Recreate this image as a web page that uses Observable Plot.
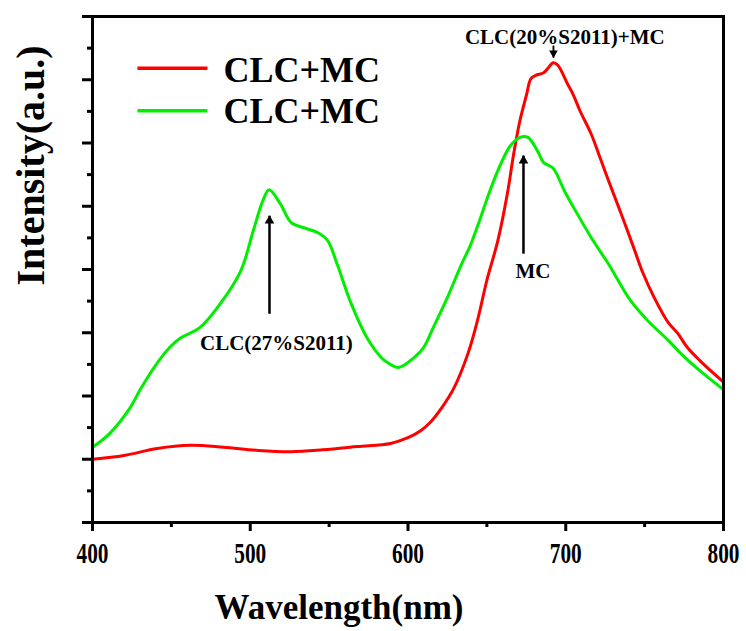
<!DOCTYPE html>
<html><head><meta charset="utf-8">
<script src="https://cdn.jsdelivr.net/npm/d3@7"></script>
<script src="https://cdn.jsdelivr.net/npm/@observablehq/plot@0.6"></script>
<style>
body{margin:0;background:#fff}
#chart{width:746px;height:631px}
#chart svg, #chart svg text {font-family: "Liberation Serif", "Times New Roman", serif !important; font-weight: bold;}
</style>
</head><body><div id="chart"></div>
<script>
// ---- data ----
const redWavelength = [400,420,441,462,483,505,526,546,568,589,600,608,614,621,629,638,644,650,657,663,667,671,675,678,681,686,689,692,695,701,705,709,716,722,727,735,743,749,756,765,771,777,785,800];
const redIntensity  = [1.00,1.06,1.17,1.22,1.19,1.14,1.12,1.15,1.20,1.25,1.34,1.45,1.58,1.80,2.12,2.67,3.19,3.83,4.46,5.20,5.83,6.36,6.75,7.02,7.07,7.11,7.19,7.27,7.23,6.94,6.75,6.51,6.15,5.75,5.41,4.89,4.35,3.94,3.56,3.16,2.99,2.77,2.56,2.22];
const greenWavelength = [400,411,424,430,439,449,456,468,481,494,502,508,512,519,526,534,543,549,555,564,574,583,587,594,604,610,616,625,633,640,646,652,659,665,671,676,682,686,692,699,705,716,727,741,752,765,773,785,800];
const greenIntensity  = [1.19,1.41,1.82,2.09,2.45,2.77,2.92,3.08,3.46,3.98,4.62,5.09,5.26,5.04,4.74,4.66,4.58,4.46,4.09,3.46,2.92,2.61,2.53,2.45,2.61,2.77,3.08,3.56,4.03,4.41,4.82,5.25,5.68,5.96,6.09,6.09,5.88,5.69,5.60,5.25,4.98,4.51,4.09,3.51,3.19,2.88,2.67,2.40,2.10];

const xMajorTicks = [400,500,600,700,800];
const xMinorTicks = [450,550,650,750];
const yMajorTicks = [0,1,2,3,4,5,6,7,8];
const yMinorTicks = [0.5,1.5,2.5,3.5,4.5,5.5,6.5,7.5];

const legendLabels = ["CLC+MC","CLC+MC"];
const legendColors = ["#ff0000","#00ee00"];
const legendLineX1 = [428.5,428.5];
const legendLineX2 = [472.9,472.9];
const legendLineY  = [7.18,6.51];
const legendTextX  = [483,483];
const legendTextY  = [6.96,6.32];

const annLabels = ["CLC(27%S2011)","MC","CLC(20%S2011)+MC"];
const annArrowX = [512.2,673.2,692.2];
const annArrowTail = [3.30,4.25,7.54];
const annArrowTip  = [4.85,5.80,7.35];
const annTextX = [516.6,679.2,699.4];
const annTextY = [2.72,3.86,7.57];

// ---- tables ----
const red = redWavelength.map((w,i)=>({w, v: redIntensity[i]}));
const green = greenWavelength.map((w,i)=>({w, v: greenIntensity[i]}));
const legend = legendLabels.map((label,i)=>({label, color: legendColors[i], x1: legendLineX1[i], x2: legendLineX2[i], y: legendLineY[i], tx: legendTextX[i], ty: legendTextY[i]}));
const ann = annLabels.map((label,i)=>({label, ax: annArrowX[i], tail: annArrowTail[i], tip: annArrowTip[i], tx: annTextX[i], ty: annTextY[i]}));
const annUp = ann.slice(0,2);
const annDown = ann.slice(2);

const serif = "Liberation Serif";

const svg = Plot.plot({
  width: 746, height: 631,
  marginLeft: 92, marginRight: 23, marginTop: 16, marginBottom: 109,
  style: {fontFamily: serif, fontWeight: "bold", background: "#fff", color: "#000", overflow: "visible"},
  x: {domain: [400, 800], axis: null},
  y: {domain: [0, 8], axis: null},
  marks: [
    Plot.line(red, {x: "w", y: "v", stroke: "#ff0000", strokeWidth: 3, curve: "catmull-rom"}),
    Plot.line(green, {x: "w", y: "v", stroke: "#00ee00", strokeWidth: 3, curve: "catmull-rom"}),
    Plot.axisX({ticks: xMajorTicks, tickSize: 9, tickPadding: 11, strokeWidth: 3, fontSize: 29, fontFamily: serif, label: null}),
    Plot.axisX({ticks: xMinorTicks, tickSize: 5, strokeWidth: 3, tickFormat: () => "", label: null}),
    Plot.axisY({ticks: yMajorTicks, tickSize: 10, strokeWidth: 3, tickFormat: () => "", label: null}),
    Plot.axisY({ticks: yMinorTicks, tickSize: 5, strokeWidth: 3, tickFormat: () => "", label: null}),
    Plot.frame({strokeWidth: 3}),
    Plot.link(legend, {x1: "x1", x2: "x2", y1: "y", y2: "y", stroke: "color", strokeWidth: 3.5}),
    Plot.text(legend, {x: "tx", y: "ty", text: "label", textAnchor: "start", lineAnchor: "bottom", fontSize: 36, fontFamily: serif, fontWeight: "bold", ariaLabel: "legend-text"}),
    Plot.link(annUp, {x1: "ax", x2: "ax", y1: "tail", y2: "tip", stroke: "#000", strokeWidth: 2.5}),
    Plot.dot(annUp, {x: "ax", y: "tip", symbol: "triangle", r: 3.6, fill: "#000", stroke: "none", dy: 5}),
    Plot.link(annDown, {x1: "ax", x2: "ax", y1: "tail", y2: "tip", stroke: "#000", strokeWidth: 1.8}),
    Plot.dot(annDown, {x: "ax", y: "tip", symbol: "triangle", r: 3.2, fill: "#000", stroke: "none", rotate: 180, dy: -4.5}),
    Plot.text(ann, {x: "tx", y: "ty", text: "label", lineAnchor: "bottom", fontSize: 21, fontFamily: serif, fontWeight: "bold", ariaLabel: "ann-text"}),
    Plot.text(["Wavelength(nm)"], {frameAnchor: "bottom", dx: -69, dy: 96, lineAnchor: "bottom", fontSize: 35, fontFamily: serif, fontWeight: "bold", ariaLabel: "x-title"}),
    Plot.text(["Intensity(a.u.)"], {frameAnchor: "left", rotate: -90, dx: -49, dy: 16, lineAnchor: "bottom", fontSize: 40, fontFamily: serif, fontWeight: "bold", ariaLabel: "y-title"})
  ]
});
document.getElementById("chart").appendChild(svg);

function fit(label, widths) {
  svg.querySelectorAll(`g[aria-label="${label}"] text`).forEach((t, i) => {
    if (!t.textContent) return;
    const w = Array.isArray(widths) ? widths[i] : widths;
    t.setAttribute("textLength", w);
    t.setAttribute("lengthAdjust", "spacingAndGlyphs");
  });
}
fit("x-axis tick label", 32);
fit("legend-text", 144);
fit("ann-text", [158, 35, 206]);
fit("x-title", 243);
fit("y-title", 315);
</script>
</body></html>
